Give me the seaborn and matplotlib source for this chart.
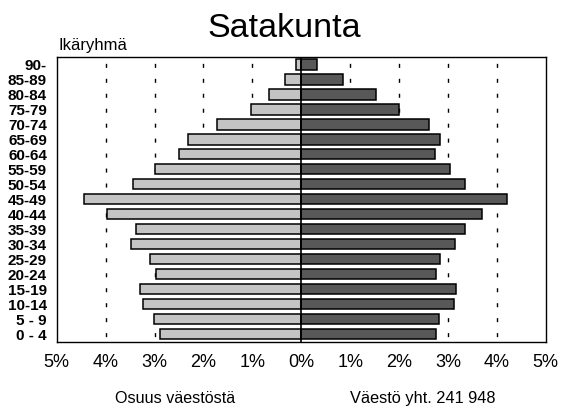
import numpy as np
import pandas as pd
import matplotlib
matplotlib.use('Agg')
import matplotlib.pyplot as plt
import seaborn as sns

# Ikäryhmät ylhäältä alas
ikaryhmat = ['90-', '85-89', '80-84', '75-79', '70-74', '65-69', '60-64', '55-59',
             '50-54', '45-49', '40-44', '35-39', '30-34', '25-29', '20-24',
             '15-19', '10-14', '5 - 9', '0 - 4']
# Osuus väestöstä (%)
vasen = [0.10, 0.33, 0.66, 1.03, 1.73, 2.31, 2.50, 2.99, 3.45, 4.44,
         3.97, 3.38, 3.49, 3.10, 2.96, 3.29, 3.23, 3.01, 2.88]
oikea = [0.32, 0.86, 1.52, 1.99, 2.61, 2.84, 2.73, 3.05, 3.35, 4.20,
         3.70, 3.35, 3.15, 2.84, 2.76, 3.16, 3.13, 2.81, 2.76]
x_ticks = [-5, -4, -3, -2, -1, 0, 1, 2, 3, 4, 5]
x_labels = ['5%', '4%', '3%', '2%', '1%', '0%', '1%', '2%', '3%', '4%', '5%']

df = pd.DataFrame({'ika': ikaryhmat, 'vasen': -np.array(vasen), 'oikea': oikea})

sns.set_style('white')
plt.rcParams['font.family'] = ['Liberation Sans', 'DejaVu Sans']
plt.rcParams['text.color'] = 'black'
plt.rcParams['xtick.color'] = 'black'
plt.rcParams['ytick.color'] = 'black'

fig = plt.figure(figsize=(5.61, 4.08), dpi=100)
ax = fig.add_axes([0.1011, 0.1625, 0.8717, 0.6978])

# Katkoviivat prosenttien kohdalla
for g in [-4, -3, -2, -1, 1, 2, 3, 4]:
    ax.axvline(g, color='black', lw=1.0, linestyle=(6.9, (2.9, 7.87)), zorder=0)

sns.barplot(data=df, x='vasen', y='ika', order=ikaryhmat, orient='h', ax=ax,
            color='#c4c4c4', edgecolor='black', linewidth=1.1, width=0.68,
            saturation=1, zorder=2)
sns.barplot(data=df, x='oikea', y='ika', order=ikaryhmat, orient='h', ax=ax,
            color='#585858', edgecolor='black', linewidth=1.1, width=0.68,
            saturation=1, zorder=2)

ax.axvline(0, color='black', lw=1.2, zorder=3)
ax.set_xlim(-5, 5)
ax.set_ylim(18.5, -0.5)
ax.set_xticks(x_ticks)
ax.set_xticklabels(x_labels, fontsize=13, color='black')
ax.tick_params(axis='x', direction='inout', length=6, width=1, pad=6, color='black')
ax.tick_params(axis='y', length=0, pad=7)
for lab in ax.get_yticklabels():
    lab.set_family(['Liberation Sans Narrow', 'Liberation Sans'])
    lab.set_fontweight('bold')
    lab.set_fontsize(11)
    lab.set_color('black')
ax.set_xlabel('')
ax.set_ylabel('')
for s in ax.spines.values():
    s.set_visible(True)
    s.set_color('black')
    s.set_linewidth(1.0)

fig.text(0.506, 0.909, 'Satakunta', fontsize=24.5, ha='center', va='baseline', color='black')
fig.text(0.1034, 0.8775, 'Ikäryhmä', fontsize=12, ha='left', va='baseline', color='black')
fig.text(0.312, 0.012, 'Osuus väestöstä', fontsize=11.6, ha='center', va='baseline', color='black')
fig.text(0.754, 0.012, 'Väestö yht. 241 948', fontsize=11.8, ha='center', va='baseline', color='black')

fig.savefig('out.png', dpi=100)
